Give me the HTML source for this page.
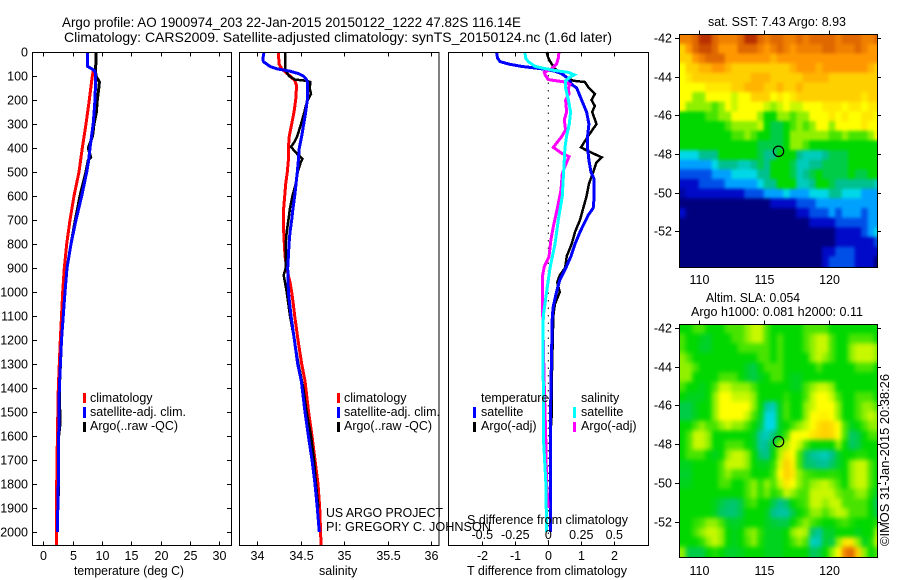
<!DOCTYPE html>
<html>
<head>
<meta charset="utf-8">
<title>Argo profile</title>
<style>
html,body{margin:0;padding:0;background:#fff;}
svg{display:block;}
text{font-family:"Liberation Sans",sans-serif;font-size:12.5px;fill:#000;}
.ttl{font-size:14px;}
</style>
</head>
<body>
<svg id="chart" xmlns="http://www.w3.org/2000/svg" width="900" height="580" viewBox="0 0 900 580">
<defs>
<clipPath id="clip-sst"><rect x="679.5" y="34.5" width="198" height="233"/></clipPath>
<clipPath id="clip-sla"><rect x="679.5" y="324.5" width="198" height="233"/></clipPath>
</defs>
<text class="ttl" x="62" y="27" textLength="459" lengthAdjust="spacingAndGlyphs">Argo profile: AO 1900974_203 22-Jan-2015 20150122_1222 47.82S 116.14E</text>
<text class="ttl" x="64" y="42" textLength="548" lengthAdjust="spacingAndGlyphs">Climatology: CARS2009. Satellite-adjusted climatology: synTS_20150124.nc (1.6d later)</text>
<g id="marks"></g>
<g id="frames"></g>

<g>
<rect x="83" y="393" width="3" height="10" fill="#f00"/>
<rect x="83" y="407" width="3" height="11" fill="#00f"/>
<rect x="83" y="422" width="3" height="10" fill="#000"/>
<text x="90" y="402">climatology</text>
<text x="90" y="416" textLength="96" lengthAdjust="spacingAndGlyphs">satellite-adj. clim.</text>
<text x="90" y="430" textLength="88" lengthAdjust="spacingAndGlyphs">Argo(..raw -QC)</text>
</g>
<g>
<rect x="337" y="393" width="3" height="10" fill="#f00"/>
<rect x="337" y="407" width="3" height="11" fill="#00f"/>
<rect x="337" y="422" width="3" height="10" fill="#000"/>
<text x="344" y="402">climatology</text>
<text x="344" y="416" textLength="96" lengthAdjust="spacingAndGlyphs">satellite-adj. clim.</text>
<text x="344" y="430" textLength="88" lengthAdjust="spacingAndGlyphs">Argo(..raw -QC)</text>
</g>
<g>
<text x="481" y="402">temperature</text>
<text x="581" y="402">salinity</text>
<rect x="473" y="407" width="3" height="11" fill="#00f"/>
<rect x="473" y="422" width="3" height="10" fill="#000"/>
<rect x="573" y="407" width="3" height="11" fill="#0ff"/>
<rect x="573" y="422" width="3" height="10" fill="#f0f"/>
<text x="481" y="416">satellite</text>
<text x="481" y="430">Argo(-adj)</text>
<text x="581" y="416">satellite</text>
<text x="581" y="430">Argo(-adj)</text>
</g>
<text x="326" y="517" textLength="117" lengthAdjust="spacingAndGlyphs">US ARGO PROJECT</text>
<text x="326" y="531" textLength="165" lengthAdjust="spacingAndGlyphs">PI: GREGORY C. JOHNSON</text>
<text x="467" y="524" textLength="161" lengthAdjust="spacingAndGlyphs">S difference from climatology</text>
<text x="74" y="575" textLength="110" lengthAdjust="spacingAndGlyphs">temperature (deg C)</text>
<text x="319" y="575">salinity</text>
<text x="467" y="575" textLength="160" lengthAdjust="spacingAndGlyphs">T difference from climatology</text>
<text x="708" y="26" textLength="138" lengthAdjust="spacingAndGlyphs">sat. SST: 7.43 Argo: 8.93</text>
<text x="706" y="302" textLength="94" lengthAdjust="spacingAndGlyphs">Altim. SLA: 0.054</text>
<text x="691" y="316" textLength="172" lengthAdjust="spacingAndGlyphs">Argo h1000: 0.081 h2000: 0.11</text>
<text transform="translate(889,546) rotate(-90)" x="0" y="0" textLength="172" lengthAdjust="spacingAndGlyphs">©IMOS 31-Jan-2015 20:38:26</text>
</svg>
<script>
// ---- Temperature panel data
const tempClimDepth = [80,100,200,300,400,500,600,700,800,900,1000,1200,1400,1600,1800,2000,2054];
const tempClim = [8.5,8.35,7.84,7.27,6.65,6.08,5.23,4.55,3.98,3.58,3.3,2.9,2.56,2.4,2.28,2.25,2.25];
const tempSatDepth = [0,50,60,70,80,100,200,300,400,450,500,600,700,800,900,1000,1200,1400,1500,1600,1800,2000];
const tempSat = [7.5,7.5,7.55,8.24,8.8,8.92,8.8,8.5,7.95,7.73,7.39,6.54,5.57,4.72,4.04,3.7,3.1,2.73,2.67,2.62,2.56,2.39];
const tempArgoDepth = [0,50,80,100,125,150,200,250,300,350,400,440,450,500,600,700,800,900,1000,1200,1400,1550,1600,1850];
const tempArgo = [8.98,8.95,8.9,8.98,9.55,9.45,9.2,9.05,8.64,8.4,7.67,8.07,7.67,7.25,6.25,5.45,4.72,4.04,3.7,3.1,2.75,2.85,2.62,2.55];
const tempTicks = [0,5,10,15,20,25,30];
const depthTicks = [0,100,200,300,400,500,600,700,800,900,1000,1100,1200,1300,1400,1500,1600,1700,1800,1900,2000];

// ---- Salinity panel data
const salClimDepth = [0,25,50,70,85,100,120,140,200,250,300,350,400,450,500,550,600,650,750,850,900,960,1000,1050,1100,1200,1300,1370,1500,1600,1700,1800,1900,2000,2054];
const salClim = [34.242,34.246,34.249,34.28,34.326,34.376,34.433,34.452,34.441,34.422,34.395,34.368,34.357,34.357,34.345,34.326,34.315,34.303,34.303,34.318,34.338,34.376,34.395,34.414,34.43,34.468,34.51,34.548,34.59,34.629,34.663,34.698,34.717,34.728,34.732];
const salSatDepth = [0,25,40,50,60,70,80,90,100,110,125,150,200,250,300,350,400,450,500,550,600,650,700,750,800,850,900,1000,1100,1200,1300,1370,1500,1600,1700,1800,1900,2000];
const salSat = [34.077,34.066,34.069,34.108,34.146,34.223,34.376,34.472,34.529,34.556,34.579,34.579,34.575,34.556,34.533,34.51,34.483,34.472,34.46,34.445,34.43,34.41,34.395,34.376,34.364,34.357,34.349,34.357,34.387,34.426,34.464,34.506,34.548,34.587,34.629,34.663,34.69,34.713];
const salArgoDepth = [0,50,70,85,100,115,120,125,150,175,200,225,250,300,350,375,395,415,430,445,460,500,550,600,650,700,750,800,900,930,960,1000,1100,1200,1300,1400,1500,1600,1700,1800,1900];
const salArgo = [34.318,34.318,34.318,34.338,34.364,34.433,34.567,34.61,34.602,34.617,34.579,34.556,34.541,34.502,34.46,34.426,34.387,34.433,34.472,34.518,34.499,34.464,34.441,34.403,34.376,34.357,34.338,34.326,34.326,34.303,34.318,34.338,34.376,34.426,34.472,34.529,34.567,34.617,34.652,34.675,34.702];
const salTicks = [34,34.5,35,35.5,36];
const salTickLabels = ['34','34.5','35','35.5','36'];

// ---- Difference panel data
const dtSatDepth = [0,25,40,50,60,70,80,90,110,135,150,200,250,300,350,400,450,500,530,600,650,680,750,800,850,900,950,1000,1060,1100,1400,1600,2000];
const dtSat = [-1.57,-1.54,-1.46,-1.21,-0.81,-0.2,0.2,0.4,0.6,0.71,0.86,1.01,1.16,1.23,1.19,1.19,1.23,1.29,1.39,1.39,1.36,1.21,0.96,0.81,0.69,0.53,0.35,0.25,0.15,0.12,0.08,0.06,0.07];
const dtArgoDepth = [0,25,50,70,90,110,120,125,150,175,200,225,250,300,350,397,410,439,460,500,550,600,650,700,750,800,850,900,930,960,1000,1050,1100,1400,1500,1600];
const dtArgo = [-0.05,0,0.1,0.2,0.4,0.6,0.76,1.11,1.23,1.41,1.31,1.41,1.33,1.46,1.21,0.99,1.16,1.62,1.46,1.36,1.23,1.16,1.06,0.96,0.81,0.71,0.56,0.51,0.35,0.27,0.35,0.2,0.15,0.1,0.11,0.06];
const dsSatDepth = [0,25,40,60,75,85,95,105,120,150,200,250,300,350,400,450,500,600,700,800,900,1000,1100,1200,1400,1600,1800,2000];
const dsSat = [-0.177,-0.172,-0.152,-0.101,0.025,0.152,0.197,0.164,0.131,0.131,0.152,0.169,0.159,0.139,0.126,0.121,0.116,0.106,0.076,0.051,0.013,-0.013,-0.038,-0.04,-0.038,-0.038,-0.018,-0.013];
const dsArgoDepth = [0,25,50,70,85,95,115,125,135,150,175,200,250,283,325,353,397,422,436,505,575,644,728,783,853,894,936,1033,1400,1600,1800,1900];
const dsArgo = [0.081,0.076,0.063,0.025,-0.03,-0.025,0,0.126,0.164,0.152,0.157,0.131,0.139,0.121,0.131,0.101,0.038,0.101,0.157,0.106,0.096,0.071,0.038,0.02,0.005,-0.03,-0.045,-0.045,-0.03,-0.02,-0.013,0];
const dtTicks = [-2,-1,0,1,2];
const dsTicks = [-0.5,-0.25,0,0.25,0.5];
const dsTickLabels = ['-0.5','-0.25','0','0.25','0.5'];

// ---- Map data (colour-scale levels on a half-degree grid)
const lonTicks = [110,115,120];
const latTicks = [-42,-44,-46,-48,-50,-52];
const argoLon = 116.14;
const argoLat = -47.82;
const sstGrid = [
[10.5,10.5,11,12,12,11,10.5,10.5,10.5,11,12,12,11,10.5,11,11,10.5,10.5,11,10.5,11,11,11,11,10.5,11,11,11,10.5,10.5,11],
[9,10,11,11.5,11.5,11,10,10,10,11,11,11,10.5,10,10.5,11,10.5,10,10.5,10.5,10.5,10.5,11,11,10.5,10.5,10.5,11,10.5,10,10],
[9,9,10,10.5,11,11,11,10,10,10,10,10,10,10,9.5,10,10,10,10,10,10,10,10,10,10,10,10,10,10,10,10],
[8,9,9,9.5,9.5,10,10,9.5,9,9,9,9,9,9,9,9,9,9.5,10,10,10,9.5,10,10,10,10,10,10,10,9.5,9],
[8,8.5,9,9,9,9,9,9,9,9,9,9.5,9.5,9.5,9,9,9,9,9,9.5,9.5,9.5,9.5,9,9,9,9,9,9,9,9],
[8,8,8,8,8.5,8.5,8.5,8.5,9,9,9.5,9.5,9.5,9,9,9.5,9,9,9.5,9,9,9,9,9,9,9,9,9,9,9,9],
[8,8,7,7,8,8,8,8,7.5,8,8,9,9,9,8,8.5,8,8.5,9,9,9,9,9,9,9,9,9,9,8.5,9,9],
[8,7,7,7,7,6.5,7,8,7.5,8,8,8,8,7.5,7,7.5,8,7.5,7.5,8,8,8,8.5,8.5,8.5,8,8.5,8.5,8,8.5,8.5],
[6,6,6,6,6.5,6.5,7,7,8,8,8,8,7,6,6,7,7,6.5,7,7,8,8,8,8.5,8,8.5,8,8,8.5,8.5,8],
[6,6,6,6,6,6,6,6.5,7,7,7,7,7.5,6,5.5,5.5,6,6.5,7,6.5,7,8,8,7,8,8,8,8,8.5,8,8],
[6,6,6,6,6,6,6,6,6.5,6.5,7,6.5,6,6,5.5,5.5,6,7,7,7,7,7,7,6.5,6.5,7,6.5,6.5,6.5,7,8],
[6,6,6,6,6,6,6,6,6,6,6,6,5.5,5.5,5.5,5.5,6,7,7,6.5,6,6,6,6,6,6,6,6,6,6,6],
[4,4,4,5,5,5,6,6,6,6,6,6,5.5,5,5,6,6,6,5,4.5,4.5,4.5,5,5.5,5.5,5.5,6,6,6,6,6],
[3,3,3,3,3,4,5,5,5,4.5,4.5,5,5.5,5,6,6,6,5.5,4.5,4.5,5,5,5.5,5.5,5.5,5.5,6,6,6,6,6],
[2,2,2,2,2,3,3,3,4,4,4,4,5,5,6,6,6,5.5,4.5,5,5.5,6,5.5,5.5,5.5,5.5,6,5.5,5.5,6,6],
[1,1,1,2,2,2,2,3,3,3,3,3,4,5,5,6,6,6,4.5,4.5,5,6,6,5.5,5,5,5,5,5,5,4.5],
[0.5,1,1,1,1,1,1,1,1,1,2,2,2,3,3,3,4,3,3,3,4,4,4,5,5,4,4,4,3,3,3],
[0,0,0,0,0,0,0,0,0,0,0,0,0,0,1,1,1,1,2,2,2,3,3,3,3,3,3,3,3,3,3],
[1,0,0,0,0,0,0,0,0,0,0,0,0,0,0,0,0,0,1,1,2,2,2,3,2,3,3,3,2,3,3],
[0,0,0,0,0,0,0,0,0,0,0,0,0,0,0,0,0,0,0,0,1,1,1,1,2,2,2,2,2,3,3],
[0,0,0,0,0,0,0,0,0,0,0,0,0,0,0,0,0,0,0,0,0,0,0,0,1,1,1,1,2,3,4],
[0,0,0,0,0,0,0,0,0,0,0,0,0,0,0,0,0,0,0,0,0,0,0,0,1,1,1,1,1,1,2],
[0,0,0,0,0,0,0,0,0,0,0,0,0,0,0,0,0,0,0,0,0,0,1,1,2,2,2,1,1,1,1],
[0,0,0,0,0,0,0,0,0,0,0,0,0,0,0,0,0,0,0,0,0,0,1,2,2,2,2,1,1,1,0]
];
const slaGrid = [
[6,6,6.5,6.5,6,6,6,6.5,6.5,6.5,7,7.5,7.5,6.5,6,6,6,6,6,6.5,6.5,6.5,6.5,6,6,6,6,6,6,6,6],
[6.5,6,6,5.8,5.7,6,6,6,6.5,6.5,7,7.5,7.5,6.5,6,6.5,6,6,6,6.5,7,7.5,7.5,6.5,6,6,6.5,6.5,6.5,6.5,6],
[6.5,6,6,5.7,5.7,6,6,6,6,6.5,6.5,6.5,6.5,6.5,6,6.5,6,6,6,6.5,7,7.5,7.5,6.5,6,6,7,7.5,7.5,7.5,7],
[7,6.5,6,6,6,6,6,6,6,6,6,6,6.5,6.5,6,6.5,6,6,6,6,7,7.5,7,6.5,6,6,7,7.5,7.5,7.5,7],
[7,7,6.5,6,6,6,6,6,6,6,5.7,5.5,6,6.5,6.5,6.5,6,6,6,6,6,6.5,6,6,6,6,6,6.5,6.5,6.5,6],
[7,7,6,6,6,6,6.5,6.5,6.5,6,5.7,5.5,5.8,6,6.5,6.5,6,5.8,5.8,6,6,6,6,6,6,6,6,6,6,6,6],
[6.5,6,6,5.8,6,6.5,7.5,7.5,7,7,7,6.5,6,6,6,6,6,5.8,5.8,6.5,7,7.5,7.5,7,6,6,6,6,6,6,6],
[6,5.8,5.8,5.8,6,7,8,8,7.5,7.5,7.5,7,6,6,6,6,6.3,6,6,6.5,7.5,8,8,7.5,6.5,6,6,6.5,6.5,6.5,6],
[5.5,5.5,5.8,6,6,7,8,8,8,8,8,7,6,4.8,4.5,5.8,6.5,6,6,7,7.5,8,8,8,7,6,6,6.5,7,7,6.5],
[5.5,5.5,5.8,6,6,7,8,8,8,8,7.5,6.5,5.8,4.1,4.1,5.8,6.5,6,6,7,8,8.2,8.3,8,7,6,6,6.5,7,7.5,7],
[6,6,6.5,7,6.5,6.5,7,7.5,7,7,6.5,6,5.5,4,4,5.8,6,6.5,7,7.5,8,8.7,9,8.7,8,6.5,5.8,6,6.5,7,7],
[6,6.5,7.5,7.5,7,6,6,6,6,6,6,5.8,4.8,4.5,5.2,5.8,6.5,8,8,8,8.5,8.8,9,8.8,8,6.5,5.3,5.5,6,6.5,6.5],
[6,6.5,7.5,7.5,7,6,6,6.5,6.5,6.5,6,5.8,4.8,5,5.8,7,7.3,8,7.5,6.5,6,6,6,6,7,6,5.3,5.5,6,6,6],
[6,6.5,6.5,6.5,6,5.8,6,7,7.5,7.5,7,6,5.2,5,6,7.3,8.5,8,6.5,5.3,4.9,4.7,4.5,5,5.7,6,6,6.2,6.2,6,6],
[5.8,5.8,6,6,6,6,6.5,7.5,7.5,7.5,7,6,5.8,5.8,6.3,7.7,9,8.3,6.5,5.3,5.2,5,4.9,5.3,5.7,6,7,7.5,7.5,6.5,6],
[5.7,5.7,6,6,6,6,6.5,7,6.5,6.5,6.5,6,6,6,6.5,8,9,8.5,7,6.5,6.3,6.2,6.2,6.3,6.2,6,7,7.5,7.5,6.5,6],
[5.8,5.8,6,6,6,6,6.5,6.5,6,6,6.5,7,6.3,7,6.5,7.5,8.5,8,7,6.5,7,7.3,7.5,7,6.5,6,7,7.5,7.5,6.5,6],
[6,6,6,6,6,6,6,6,6,6,6.5,7,6.3,6.8,6.2,6.5,7.5,7,6.5,6.5,7.5,7.5,7.5,7.5,6.8,6.5,6.5,7,7,6.2,5.7],
[6,6,6,6,6,5.8,5.5,5.3,5.2,5.5,6.3,6.5,6,6,5.5,5,5.3,6,6.3,6.5,7.5,7.5,7,7.5,7.5,6.5,6.5,6.5,6.5,6,5.3],
[6,6,6,6,6,5.8,5.3,5.2,5.2,5.5,6,6,6,5.8,5,4.8,4.8,5.5,6,6.3,7,7,6.5,7,7.5,7.3,6.5,6.5,6.5,6,5.5],
[6,6,6.3,6.5,7,7,6.5,5.8,5.7,5.8,6,6,6,5.8,5.6,5.5,5.5,6,6.5,7,6.5,6.2,6,6,6.3,6.5,6.2,6,6,6,6.3],
[6,6,6.5,7,7.5,7.5,7,6,5.8,6,6.7,7,6.3,5.8,5.8,5.8,6,7,7.5,7.2,5.3,4.8,5.7,5.7,6,6,6,5.8,6,6,7.2],
[6,6,6,6.3,7,7.5,7,6,5.8,6,6.5,7,6.2,5.8,5.8,5.8,6,6.5,7,6.5,4.4,4.6,5.7,5.5,7,8.5,8.5,7,5.8,6.2,7.5],
[7,5.5,5.5,5.5,6,6.2,6,5.7,5.7,5.8,6,6,6,5.8,5.8,5.8,6,6,6,6,5.3,5.5,6,7,8,10.5,11,9,7,6,6.5]
];
const gridLon0 = 108.5;
const gridLat0 = -41.8;
const gridStep = 0.5;

// ---- Colour scale
const colourStops = [[0,0,127],[0,10,200],[0,80,232],[0,160,255],[0,216,232],[0,192,144],[0,216,0],[144,240,0],[255,255,0],[255,208,0],[255,152,0],[224,104,0],[184,48,0]];

function colourFor(v){
  const i = Math.max(0, Math.min(colourStops.length-2, Math.floor(v)));
  const f = Math.max(0, Math.min(1, v-i));
  const a = colourStops[i], b = colourStops[i+1];
  return 'rgb('+[0,1,2].map(function(k){return Math.round(a[k]+(b[k]-a[k])*f);}).join(',')+')';
}

const NS = 'http://www.w3.org/2000/svg';
const root = document.getElementById('chart');
const marks = document.getElementById('marks');
const frames = document.getElementById('frames');

function mk(tag, attrs, name, parent){
  const el = document.createElementNS(NS, tag);
  for (const k in attrs) el.setAttribute(k, attrs[k]);
  
  
  (parent || marks).appendChild(el);
  return el;
}
function label(x, y, txt, anchor, name){
  const t = mk('text', {x:x, y:y, 'text-anchor':anchor}, name, frames);
  t.textContent = txt;
  return t;
}

// ---- Axis functions
const PANEL_TOP = 52.5, PANEL_BOTTOM = 545.5;
function yDepth(d){ return 52 + d*0.24; }
function xTemp(t){ return 43.3 + t*5.87; }
function xSal(s){ return 257.3 + (s-34)*87; }
function xDT(t){ return 548.3 + t*33; }
function xDS(s){ return 548.3 + s*132; }
function xLon(lon){ return 698.7 + (lon-110)*13; }
function ySstLat(lat){ return 38 + (-42-lat)*19.33; }
function ySlaLat(lat){ return 327.7 + (-42-lat)*19.4; }

function drawLine(depths, values, xFn, colour, width, name){
  const pts = depths.map(function(d,i){ return xFn(values[i]).toFixed(1)+','+yDepth(d).toFixed(1); }).join(' ');
  mk('polyline', {points:pts, fill:'none', stroke:colour, 'stroke-width':width, 'shape-rendering':'crispEdges'}, name);
}

// ---- Profile panels
drawLine(tempClimDepth, tempClim, xTemp, '#f00', 3, 'temperature-climatology-line');
drawLine(tempArgoDepth, tempArgo, xTemp, '#000', 3, 'temperature-argo-line');
drawLine(tempSatDepth, tempSat, xTemp, '#00f', 3, 'temperature-satellite-line');

drawLine(salClimDepth, salClim, xSal, '#f00', 3, 'salinity-climatology-line');
drawLine(salArgoDepth, salArgo, xSal, '#000', 2.5, 'salinity-argo-line');
drawLine(salSatDepth, salSat, xSal, '#00f', 3, 'salinity-satellite-line');

mk('line', {x1:xDT(0), x2:xDT(0), y1:PANEL_TOP, y2:PANEL_BOTTOM, stroke:'#000', 'stroke-width':1, 'stroke-dasharray':'1.5 6'}, 'zero-difference-line');
drawLine(dtArgoDepth, dtArgo, xDT, '#000', 2.5, 'temperature-diff-argo-line');
drawLine(dtSatDepth, dtSat, xDT, '#00f', 3, 'temperature-diff-satellite-line');
drawLine(dsArgoDepth, dsArgo, xDS, '#f0f', 3, 'salinity-diff-argo-line');
drawLine(dsSatDepth, dsSat, xDS, '#0ff', 3, 'salinity-diff-satellite-line');

// ---- Heat maps
function drawMap(grid, yLat, clipId, name, blur){
  const outer = mk('g', {'clip-path':'url(#'+clipId+')'}, name);
  const g = mk('g', {style:'filter:blur('+blur+'px)'}, name+'-cells', outer);
  grid.forEach(function(row, r){
    row.forEach(function(v, c){
      const lon = gridLon0 + c*gridStep, lat = gridLat0 - r*gridStep;
      let x = xLon(lon), y = yLat(lat);
      let w = xLon(lon+gridStep)-x+0.6, h = yLat(lat-gridStep)-y+0.6;
      // edge cells run past the clip so the softening does not fade to white
      if (c === 0) { x -= 10; w += 10; }
      if (c === row.length-1) { w += 10; }
      if (r === 0) { y -= 10; h += 10; }
      if (r === grid.length-1) { h += 10; }
      mk('rect', {x:x.toFixed(1), y:y.toFixed(1), width:w.toFixed(1), height:h.toFixed(1), fill:colourFor(v)}, name+'-cell', g);
    });
  });
}
drawMap(sstGrid, ySstLat, 'clip-sst', 'sst-map', 1.5);
drawMap(slaGrid, ySlaLat, 'clip-sla', 'sla-map', 2.5);

// ---- Frames and ticks
function frame(x, y, w, h, name){
  mk('rect', {x:x, y:y, width:w, height:h, fill:'none', stroke:'#000', 'stroke-width':1}, name, frames);
}
function tick(x1, y1, x2, y2, name){
  mk('line', {x1:x1, y1:y1, x2:x2, y2:y2, stroke:'#000', 'stroke-width':1}, name, frames);
}
frame(32.5, PANEL_TOP, 199, 493, 'temperature-panel-frame');
frame(239.5, PANEL_TOP, 199.5, 493, 'salinity-panel-frame');
frame(448.5, PANEL_TOP, 200, 493, 'difference-panel-frame');

depthTicks.forEach(function(d){
  const y = Math.round(yDepth(d))+0.5;
  tick(32.5, y, 37, y, 'depth-tick-left');
  tick(227, y, 231.5, y, 'depth-tick-right');
  label(28, y+4, String(d), 'end', 'depth-tick-label');
});
tempTicks.forEach(function(t){
  const x = Math.round(xTemp(t))+0.5;
  tick(x, PANEL_TOP, x, PANEL_TOP+4, 'temperature-tick-top');
  tick(x, PANEL_BOTTOM-4, x, PANEL_BOTTOM, 'temperature-tick-bottom');
  label(x, 560, String(t), 'middle', 'temperature-tick-label');
});
salTicks.forEach(function(s,i){
  const x = Math.round(xSal(s))+0.5;
  tick(x, PANEL_TOP, x, PANEL_TOP+4, 'salinity-tick-top');
  tick(x, PANEL_BOTTOM-4, x, PANEL_BOTTOM, 'salinity-tick-bottom');
  label(x, 560, salTickLabels[i], 'middle', 'salinity-tick-label');
});
dtTicks.forEach(function(t){
  const x = Math.round(xDT(t))+0.5;
  tick(x, PANEL_TOP, x, PANEL_TOP+4, 'difference-tick-top');
  tick(x, PANEL_BOTTOM-4, x, PANEL_BOTTOM, 'difference-tick-bottom');
  label(x, 560, String(t), 'middle', 't-difference-tick-label');
});
dsTicks.forEach(function(s,i){
  label(xDS(s), 539, dsTickLabels[i], 'middle', 's-difference-tick-label');
});

frame(679.5, 34.5, 198, 233, 'sst-map-frame');
frame(679.5, 324.5, 198, 233, 'sla-map-frame');
lonTicks.forEach(function(lon){
  const x = Math.round(xLon(lon))+0.5;
  tick(x, 30.5, x, 34.5, 'sst-lon-tick');
  label(x, 284, String(lon), 'middle', 'sst-lon-label');
  tick(x, 320.5, x, 324.5, 'sla-lon-tick');
  label(x, 575, String(lon), 'middle', 'sla-lon-label');
});
latTicks.forEach(function(lat){
  const y1 = Math.round(ySstLat(lat))+0.5;
  tick(675, y1, 679.5, y1, 'sst-lat-tick-left');
  tick(877.5, y1, 881, y1, 'sst-lat-tick-right');
  label(672, y1+4, String(lat), 'end', 'sst-lat-label');
  const y2 = Math.round(ySlaLat(lat))+0.5;
  tick(675, y2, 679.5, y2, 'sla-lat-tick-left');
  tick(877.5, y2, 881, y2, 'sla-lat-tick-right');
  label(672, y2+4, String(lat), 'end', 'sla-lat-label');
});

// ---- Argo position markers
mk('circle', {cx:xLon(argoLon), cy:ySstLat(argoLat)+0.8, r:5.2, fill:'none', stroke:'#000', 'stroke-width':1.2}, 'sst-argo-marker', frames);
mk('circle', {cx:xLon(argoLon), cy:ySlaLat(argoLat)+1, r:5.2, fill:'none', stroke:'#000', 'stroke-width':1.2}, 'sla-argo-marker', frames);
</script>
</body>
</html>
